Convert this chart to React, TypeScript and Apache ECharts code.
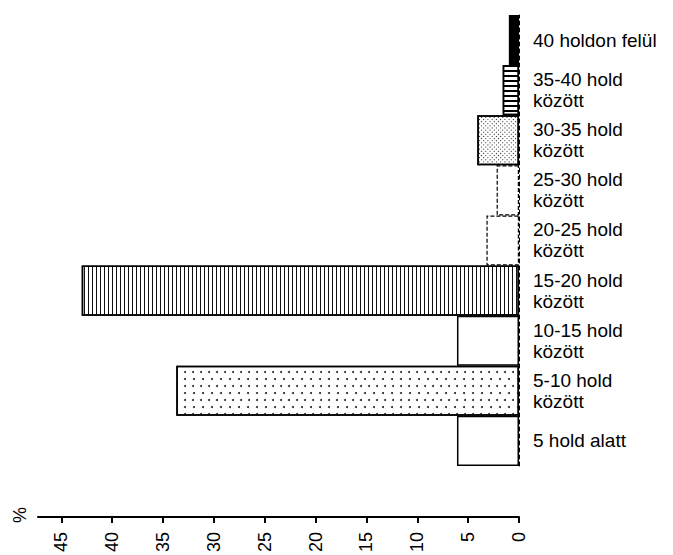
import React, { useEffect, useRef } from "react";
import * as echarts from "echarts";

// Categories from bottom to top
const categories: string[] = [
  "5 hold alatt",
  "5-10 hold\nközött",
  "10-15 hold\nközött",
  "15-20 hold\nközött",
  "20-25 hold\nközött",
  "25-30 hold\nközött",
  "30-35 hold\nközött",
  "35-40 hold\nközött",
  "40 holdon felül",
];

// Share of holdings (%)
const values: number[] = [6.1, 33.7, 6.1, 43.0, 3.2, 2.2, 4.1, 1.6, 1.0];

// Fill style key per category
const fills: string[] = ["plain", "dots", "plain", "vstripes", "dashed", "dashed", "hatch", "hstripes", "solid"];

const axisMax = 47.3;
const axisInterval = 5;
const unitLabel = "%";

const FONT = "'Liberation Sans', Arial, sans-serif";

function styleFor(kind: string) {
  const base: any = { color: "#fff", borderColor: "#000", borderWidth: 1.5, borderType: "solid" };
  switch (kind) {
    case "solid":
      return { ...base, color: "#000" };
    case "hstripes":
      return {
        ...base,
        decal: { symbol: "rect", symbolSize: 1, dashArrayX: [1, 0], dashArrayY: [2, 3], rotation: 0, color: "#000", backgroundColor: "#fff" },
      };
    case "vstripes":
      return {
        ...base,
        decal: { symbol: "rect", symbolSize: 1, dashArrayX: [1, 3], dashArrayY: [1, 0], rotation: 0, color: "#111", backgroundColor: "#fff" },
      };
    case "hatch":
      return {
        ...base,
        decal: { symbol: "rect", symbolSize: 1, dashArrayX: [1, 1.5], dashArrayY: [1, 1.5], rotation: Math.PI / 4, color: "#222", backgroundColor: "#fff" },
      };
    case "dots":
      return {
        ...base,
        decal: { symbol: "circle", symbolSize: 1, dashArrayX: [[1.6, 6], [0, 3.8, 1.6, 2.2]], dashArrayY: [1.6, 5], rotation: 0, color: "#222", backgroundColor: "#fff" },
      };
    case "dashed":
      return { ...base, borderType: [4, 2], borderWidth: 1.2 };
    default:
      return base;
  }
}

export default function App() {
  const ref = useRef<HTMLDivElement>(null);
  useEffect(() => {
    if (!ref.current) return;
    const chart = echarts.init(ref.current, undefined, { renderer: "svg" });
    chart.setOption({
      animation: false,
      backgroundColor: "#fff",
      grid: { left: 38, right: 154, top: 15, bottom: 88, containLabel: false },
      xAxis: {
        type: "value",
        inverse: true,
        min: 0,
        max: axisMax,
        interval: axisInterval,
        position: "bottom",
        offset: 51,
        axisLine: { show: true, lineStyle: { color: "#000", width: 2 } },
        axisTick: { show: true, length: 6, inside: false, lineStyle: { color: "#000", width: 2 } },
        splitLine: { show: false },
        axisLabel: {
          rotate: 90,
          margin: 15,
          color: "#000",
          fontFamily: FONT,
          fontSize: 18,
          showMaxLabel: false,
        },
      },
      yAxis: {
        type: "category",
        data: categories,
        position: "right",
        axisLine: { show: true, lineStyle: { color: "#000", width: 1, type: [4, 3] } },
        axisTick: { show: false },
        splitLine: { show: false },
        axisLabel: {
          margin: 14,
          align: "left",
          color: "#000",
          fontFamily: FONT,
          fontSize: 19,
          lineHeight: 21,
        },
      },
      series: [
        {
          type: "bar",
          barCategoryGap: 0,
          data: values.map((v, i) => ({ value: v, itemStyle: styleFor(fills[i]) })),
        },
      ],
      graphic: [
        {
          type: "text",
          x: 20,
          y: 515,
          rotation: Math.PI / 2,
          style: {
            text: unitLabel,
            fill: "#000",
            font: `18px ${FONT}`,
            align: "center",
            verticalAlign: "middle",
          },
        },
      ],
    });
    return () => chart.dispose();
  }, []);
  return <div ref={ref} style={{ position: "absolute", left: 0, top: 0, width: 673, height: 555 }} />;
}
